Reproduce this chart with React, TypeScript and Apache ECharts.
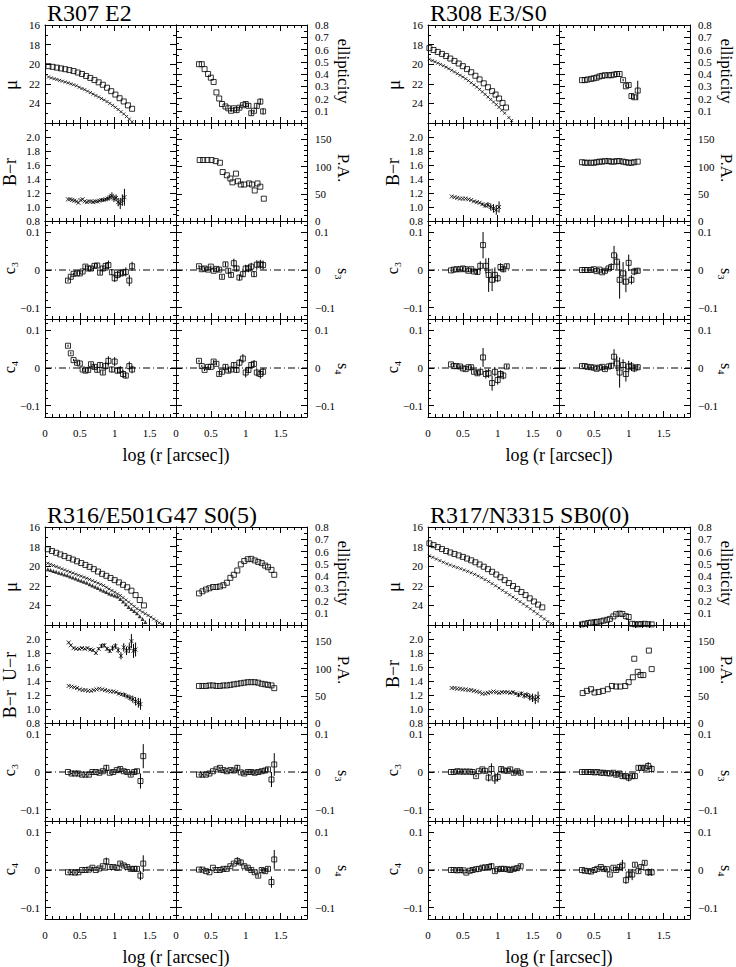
import React, { useEffect, useRef } from "react";
import * as echarts from "echarts";

// ===================== R307 E2 =====================
const p1MuSqX = [0.05,0.11,0.17,0.23,0.29,0.35,0.41,0.47,0.53,0.59,0.65,0.71,0.77,0.83,0.89,0.95,1.01,1.07,1.13,1.19,1.25];
const p1MuSq = [20.2,20.27,20.35,20.43,20.51,20.6,20.7,20.85,21.0,21.2,21.4,21.62,21.85,22.1,22.4,22.75,23.1,23.47,23.8,24.2,24.55];
const p1MuXX = [0.05,0.09,0.13,0.17,0.21,0.25,0.29,0.33,0.37,0.41,0.45,0.49,0.53,0.57,0.61,0.65,0.69,0.73,0.77,0.81,0.85,0.89,0.93,0.97,1.01,1.05,1.09,1.13,1.17,1.21,1.25];
const p1MuX = [21.3,21.4,21.48,21.56,21.65,21.73,21.82,21.9,22.0,22.1,22.2,22.35,22.48,22.6,22.75,22.9,23.05,23.2,23.35,23.5,23.65,23.82,24.0,24.2,24.4,24.62,24.85,25.08,25.33,25.6,25.88];
const p1R = [0.33,0.37,0.41,0.46,0.5,0.54,0.58,0.62,0.66,0.71,0.75,0.79,0.83,0.87,0.91,0.96,1.0,1.04,1.08,1.12,1.16,1.21,1.25];
const p1Eps = [0.48,0.48,0.44,0.40,0.37,0.335,0.25,0.20,0.155,0.135,0.12,0.10,0.12,0.105,0.125,0.145,0.155,0.14,0.08,0.10,0.14,0.175,0.095];
const p1EpsE = [0,0,0,0,0,0,0,0,0,0,0,0.01,0.01,0.02,0.015,0.01,0.02,0.015,0.02,0.01,0.02,0.025,0.025];
const p1PAX = [0.34,0.39,0.45,0.51,0.57,0.63,0.67,0.73,0.78,0.81,0.86,0.89,0.93,0.98,1.05,1.09,1.13,1.17,1.21,1.26];
const p1PA = [112,112,112,112,110,107,90,84,78,71,87,73,67,67,69,67,56,69,63,41];
const p1BrX = [0.33,0.36,0.39,0.42,0.45,0.48,0.51,0.54,0.57,0.6,0.63,0.66,0.69,0.72,0.75,0.78,0.81,0.84,0.87,0.9,0.93,0.96,0.99,1.02,1.05,1.08,1.11,1.14];
const p1Br = [1.11,1.11,1.10,1.09,1.08,1.06,1.10,1.11,1.08,1.07,1.08,1.08,1.07,1.08,1.08,1.09,1.10,1.10,1.11,1.12,1.14,1.16,1.12,1.13,1.07,1.05,1.10,1.14];
const p1BrE = [0,0,0,0,0,0,0,0,0,0,0,0,0.01,0.01,0.01,0.01,0.02,0.02,0.02,0.03,0.04,0.05,0.05,0.05,0.06,0.08,0.08,0.12];
const p1C3 = [-0.028,-0.018,-0.01,-0.009,-0.009,-0.004,0.009,0.004,0.004,0.011,0.012,-0.007,0.004,0.011,0.013,-0.006,-0.022,-0.013,-0.009,-0.007,-0.005,-0.028,0.01];
const p1C3E = [0.003,0.003,0.003,0.003,0.003,0.004,0.005,0.005,0.005,0.006,0.006,0.006,0.007,0.008,0.012,0.008,0.01,0.01,0.01,0.01,0.012,0.015,0.012];
const p1S3 = [0.01,0.002,0.004,0.001,0.009,-0.002,0.003,0.001,-0.018,0.015,-0.002,-0.013,0.018,0.004,-0.02,-0.011,0.004,0.004,0.009,-0.011,0.014,0.015,0.013];
const p1S3E = [0.003,0.003,0.003,0.003,0.003,0.004,0.004,0.005,0.005,0.006,0.006,0.006,0.012,0.008,0.008,0.008,0.01,0.01,0.01,0.008,0.012,0.012,0.012];
const p1C4 = [0.059,0.039,0.021,0.014,0.012,-0.004,-0.007,-0.005,0.01,0.003,-0.005,0.008,-0.012,0.005,0.019,-0.004,0.017,-0.007,-0.005,-0.016,-0.02,0.005,-0.004];
const p1C4E = [0.003,0.003,0.003,0.003,0.003,0.004,0.004,0.005,0.005,0.006,0.006,0.006,0.006,0.01,0.012,0.008,0.012,0.008,0.01,0.01,0.008,0.012,0.01];
const p1S4 = [0.019,0.005,-0.005,0.003,0.003,0.017,0.011,-0.016,-0.01,0.003,-0.007,-0.004,0.008,-0.005,0.014,0.025,-0.012,-0.005,0.008,0.011,-0.012,-0.016,-0.01];
const p1S4E = [0.003,0.003,0.003,0.003,0.003,0.004,0.004,0.005,0.005,0.006,0.006,0.006,0.006,0.008,0.01,0.012,0.013,0.008,0.008,0.01,0.01,0.012,0.01];

// ===================== R308 E3/S0 =====================
const p2MuSqX = [0.02,0.08,0.14,0.2,0.26,0.32,0.38,0.44,0.5,0.56,0.62,0.68,0.74,0.8,0.86,0.92,0.97,1.02,1.07,1.12];
const p2MuSq = [18.36,18.55,18.75,18.95,19.17,19.42,19.67,19.93,20.2,20.5,20.82,21.18,21.55,21.95,22.35,22.75,23.1,23.5,23.95,24.42];
const p2MuXX = [0.02,0.06,0.1,0.14,0.18,0.22,0.26,0.3,0.34,0.38,0.42,0.46,0.5,0.54,0.58,0.62,0.66,0.7,0.74,0.78,0.82,0.86,0.9,0.94,0.98,1.02,1.06,1.1,1.16,1.2];
const p2MuX = [19.5,19.63,19.75,19.89,20.02,20.16,20.3,20.46,20.62,20.79,20.96,21.13,21.3,21.48,21.68,21.89,22.11,22.33,22.57,22.82,23.08,23.34,23.6,23.86,24.12,24.4,24.7,25.0,25.45,25.75];
const p2R = [0.33,0.37,0.41,0.46,0.5,0.54,0.58,0.62,0.66,0.71,0.75,0.79,0.83,0.87,0.92,0.96,1.0,1.04,1.08,1.13];
const p2Eps = [0.35,0.35,0.355,0.36,0.365,0.37,0.38,0.385,0.39,0.39,0.39,0.395,0.40,0.40,0.35,0.30,0.31,0.22,0.21,0.265];
const p2EpsE = [0,0,0,0,0,0,0,0,0,0,0,0.005,0.005,0.01,0.01,0.01,0.015,0.02,0.02,0.08];
const p2PA = [108,107,107,107,107,108,109,109,110,110,109,109,110,110,109,108,107,107,108,109];
const p2BrX = [0.34,0.38,0.42,0.46,0.5,0.54,0.58,0.62,0.66,0.7,0.74,0.78,0.82,0.86,0.9,0.94,0.98,1.02];
const p2Br = [1.15,1.14,1.13,1.12,1.12,1.12,1.11,1.10,1.08,1.07,1.06,1.04,1.02,1.03,1.0,0.98,0.96,1.0];
const p2BrE = [0,0,0,0,0,0,0,0,0.01,0.01,0.01,0.02,0.03,0.04,0.05,0.06,0.07,0.08];
const p2C3 = [-0.001,0.001,0.002,0.002,0.004,0.002,-0.002,0.002,-0.004,-0.005,0.011,0.066,0.011,-0.013,-0.026,-0.013,-0.022,0.008,0.002,0.01];
const p2C3E = [0.002,0.002,0.002,0.002,0.002,0.003,0.003,0.004,0.005,0.008,0.012,0.035,0.02,0.045,0.03,0.02,0.01,0.01,0.008,0.006];
const p2S3 = [0,0,0,0,0.002,-0.003,0.001,-0.006,-0.002,0.004,0.008,0.039,0.022,-0.026,-0.009,-0.031,0.019,-0.026,-0.004,-0.002];
const p2S3E = [0.002,0.002,0.002,0.002,0.002,0.003,0.003,0.004,0.005,0.006,0.01,0.025,0.02,0.05,0.03,0.028,0.022,0.012,0.01,0.008];
const p2C4 = [0.0096,0.005,0.005,0.004,-0.001,-0.003,0.002,0.002,-0.01,-0.014,-0.01,0.028,-0.016,-0.014,-0.04,-0.01,-0.032,-0.016,-0.02,0.004];
const p2C4E = [0.002,0.002,0.002,0.002,0.002,0.003,0.003,0.004,0.005,0.006,0.008,0.025,0.012,0.012,0.02,0.012,0.012,0.01,0.01,0.006];
const p2S4 = [0.005,0.005,0.003,0.002,0.001,-0.002,0.001,0.003,-0.003,0.004,0.006,0.03,0.012,-0.012,0.008,-0.016,0.004,0.004,-0.001,0.002];
const p2S4E = [0.002,0.002,0.002,0.002,0.002,0.002,0.003,0.004,0.004,0.005,0.008,0.02,0.02,0.04,0.015,0.02,0.015,0.012,0.01,0.008];

// ===================== R316/E501G47 S0(5) =====================
const p3MuSqX = [0.04,0.1,0.16,0.22,0.28,0.34,0.4,0.46,0.52,0.58,0.64,0.7,0.76,0.82,0.88,0.94,1.0,1.06,1.12,1.18,1.24,1.3,1.36,1.42];
const p3MuSq = [18.27,18.45,18.63,18.8,18.97,19.15,19.32,19.5,19.68,19.87,20.07,20.3,20.55,20.78,20.98,21.2,21.42,21.65,21.9,22.15,22.5,22.95,23.45,24.0];
const p3MuAX = [0.04,0.08,0.12,0.16,0.2,0.24,0.28,0.32,0.36,0.4,0.44,0.48,0.52,0.56,0.6,0.64,0.68,0.72,0.76,0.8,0.84,0.88,0.92,0.96,1.0,1.04,1.08,1.12,1.16,1.2,1.24,1.28,1.32,1.36,1.4,1.44,1.48,1.52,1.56,1.6,1.64,1.68];
const p3MuA = [19.7,19.81,19.93,20.04,20.15,20.27,20.38,20.49,20.6,20.7,20.81,20.92,21.02,21.13,21.23,21.35,21.48,21.6,21.73,21.85,21.98,22.15,22.32,22.48,22.65,22.82,22.99,23.21,23.44,23.66,23.88,24.1,24.33,24.5,24.68,24.85,25.02,25.2,25.39,25.58,25.77,25.95];
const p3MuBX = [0.04,0.08,0.12,0.16,0.2,0.24,0.28,0.32,0.36,0.4,0.44,0.48,0.52,0.56,0.6,0.64,0.68,0.72,0.76,0.8,0.84,0.88,0.92,0.96,1.0,1.04,1.08,1.12,1.16,1.2,1.24,1.28,1.32,1.36,1.4,1.44];
const p3MuB = [20.3,20.39,20.48,20.57,20.66,20.75,20.84,20.93,21.04,21.15,21.26,21.37,21.48,21.59,21.7,21.83,21.97,22.1,22.23,22.37,22.5,22.64,22.78,22.9,23.0,23.1,23.35,23.6,23.88,24.16,24.37,24.58,24.8,25.1,25.4,25.7];
const p3R = [0.33,0.38,0.43,0.48,0.53,0.58,0.63,0.68,0.73,0.78,0.83,0.88,0.93,0.98,1.03,1.08,1.13,1.18,1.23,1.28,1.32,1.37,1.41];
const p3Eps = [0.258,0.275,0.29,0.3,0.31,0.31,0.315,0.325,0.345,0.385,0.41,0.445,0.495,0.522,0.537,0.54,0.527,0.515,0.505,0.485,0.472,0.45,0.41];
const p3PA = [68,68,68,69,69,68,68,69,69,70,71,72,73,74,75,75,75,74,72,71,70,69,64];
const p3BrX = [0.34,0.38,0.42,0.46,0.5,0.54,0.58,0.62,0.66,0.7,0.74,0.78,0.82,0.86,0.9,0.94,0.98,1.02,1.06,1.1,1.14,1.18,1.22,1.26,1.3,1.34,1.37];
const p3Br = [1.33,1.32,1.31,1.30,1.28,1.27,1.27,1.26,1.26,1.27,1.28,1.29,1.28,1.27,1.26,1.25,1.25,1.24,1.22,1.21,1.2,1.18,1.16,1.14,1.11,1.09,1.07];
const p3BrE = [0,0,0,0,0,0,0,0,0,0,0,0,0,0,0,0.01,0.01,0.01,0.02,0.02,0.03,0.03,0.04,0.05,0.06,0.07,0.08];
const p3UrX = [0.34,0.37,0.41,0.45,0.49,0.53,0.57,0.61,0.65,0.69,0.73,0.77,0.81,0.85,0.89,0.93,0.97,1.01,1.05,1.09,1.13,1.17,1.21,1.24,1.27,1.3];
const p3Ur = [1.95,1.91,1.87,1.86,1.86,1.87,1.86,1.87,1.85,1.84,1.80,1.86,1.90,1.91,1.86,1.83,1.87,1.90,1.84,1.76,1.88,1.83,1.87,1.97,1.83,1.85];
const p3UrE = [0.01,0.01,0.01,0.01,0.01,0.01,0.01,0.01,0.02,0.02,0.02,0.02,0.03,0.03,0.03,0.03,0.04,0.04,0.04,0.05,0.06,0.06,0.07,0.1,0.1,0.1];
const p3C3 = [0,-0.004,-0.004,-0.004,-0.007,-0.007,-0.007,0,0,-0.002,0.002,0.011,-0.002,0,0.005,0.008,0.002,0,-0.007,0,0.002,-0.024,0.042];
const p3C3E = [0.002,0.002,0.002,0.002,0.002,0.002,0.002,0.003,0.003,0.003,0.004,0.008,0.004,0.004,0.004,0.005,0.005,0.005,0.005,0.006,0.006,0.02,0.032];
const p3S3 = [-0.007,-0.007,-0.007,-0.004,0.002,0.007,0.011,0.005,0.002,0.005,0.004,0.011,-0.001,-0.004,0,0,-0.002,0,0.002,0.004,0.007,-0.02,0.02];
const p3S3E = [0.002,0.002,0.002,0.002,0.002,0.002,0.003,0.003,0.003,0.003,0.004,0.008,0.004,0.004,0.004,0.005,0.005,0.005,0.005,0.006,0.006,0.02,0.03];
const p3C4 = [-0.006,-0.006,-0.007,-0.006,0,0,0.001,0.006,0,0.004,0.01,0.023,0.008,0.008,0.006,0.017,0.012,0.008,0.003,0.003,0.003,-0.015,0.017];
const p3C4E = [0.002,0.002,0.002,0.002,0.002,0.002,0.002,0.003,0.003,0.003,0.004,0.01,0.004,0.004,0.004,0.005,0.005,0.005,0.005,0.006,0.006,0.012,0.022];
const p3S4 = [0.001,0.001,-0.003,-0.006,0.006,0,0,0.003,0.003,0.01,0.017,0.024,0.02,0.01,0.006,0,-0.006,-0.015,0,-0.003,0.003,-0.032,0.028];
const p3S4E = [0.002,0.002,0.002,0.002,0.002,0.002,0.002,0.003,0.003,0.003,0.004,0.01,0.008,0.004,0.004,0.005,0.005,0.005,0.005,0.006,0.006,0.015,0.025];

// ===================== R317/N3315 SB0(0) =====================
const p4MuSqX = [0.02,0.08,0.14,0.2,0.26,0.32,0.38,0.44,0.5,0.56,0.62,0.68,0.74,0.8,0.86,0.92,0.98,1.04,1.1,1.16,1.22,1.28,1.34,1.4,1.46,1.52,1.58,1.64];
const p4MuSq = [17.67,17.85,18.05,18.25,18.45,18.6,18.75,18.9,19.05,19.22,19.4,19.6,19.82,20.05,20.3,20.57,20.85,21.13,21.42,21.72,22.02,22.32,22.63,22.95,23.28,23.6,23.92,24.2];
const p4MuXX = [0.02,0.07,0.12,0.17,0.22,0.27,0.32,0.37,0.42,0.47,0.52,0.57,0.62,0.67,0.72,0.77,0.82,0.87,0.92,0.97,1.02,1.07,1.12,1.17,1.22,1.27,1.32,1.37,1.42,1.47,1.52,1.57,1.62,1.67,1.72,1.77];
const p4MuX = [18.95,19.1,19.27,19.43,19.6,19.75,19.88,20.01,20.14,20.26,20.39,20.53,20.67,20.83,21.0,21.18,21.37,21.57,21.78,22.0,22.23,22.46,22.69,22.92,23.15,23.38,23.62,23.86,24.1,24.35,24.6,24.86,25.12,25.38,25.65,25.85];
const p4R = [0.33,0.37,0.42,0.46,0.51,0.55,0.6,0.64,0.69,0.73,0.78,0.82,0.87,0.91,0.96,1.0,1.05,1.09,1.14,1.18,1.23,1.28,1.33];
const p4Eps = [0.005,0.01,0.016,0.02,0.022,0.026,0.03,0.036,0.042,0.05,0.07,0.088,0.093,0.09,0.072,0.065,0.01,0.006,0.005,0.008,0.01,0.006,0.005];
const p4PAX = [0.34,0.4,0.46,0.51,0.57,0.63,0.7,0.76,0.82,0.88,0.95,1.0,1.06,1.08,1.13,1.17,1.21,1.29,1.33];
const p4PA = [55,59,62,56,57,59,62,68,67,67,68,75,84,118,94,88,88,133,99];
const p4BrX = [0.34,0.38,0.42,0.46,0.5,0.54,0.58,0.62,0.66,0.7,0.74,0.78,0.82,0.86,0.9,0.94,0.98,1.02,1.06,1.1,1.14,1.18,1.22,1.26,1.3,1.34,1.38,1.42,1.46,1.5,1.54,1.58];
const p4Br = [1.30,1.30,1.29,1.29,1.28,1.28,1.27,1.27,1.26,1.25,1.24,1.22,1.22,1.23,1.24,1.25,1.24,1.23,1.24,1.24,1.24,1.23,1.24,1.22,1.20,1.22,1.19,1.20,1.17,1.16,1.14,1.17];
const p4BrE = [0,0,0,0,0,0,0,0,0,0,0,0,0,0,0,0,0,0,0.01,0.01,0.01,0.015,0.02,0.02,0.03,0.03,0.04,0.04,0.05,0.06,0.07,0.08];
const p4C3 = [0,0,0.002,0.001,0.001,0.001,0.001,0,-0.011,0.002,0.007,0.003,-0.015,0.008,-0.017,-0.013,0.008,0.004,0.003,0.007,-0.002,0.002,-0.002];
const p4C3E = [0.002,0.002,0.002,0.002,0.002,0.002,0.002,0.003,0.003,0.003,0.004,0.004,0.01,0.015,0.015,0.012,0.005,0.005,0.005,0.005,0.005,0.006,0.006];
const p4S3 = [0,0,0,0,-0.001,0,-0.002,-0.002,-0.003,-0.004,-0.002,-0.007,-0.004,-0.011,-0.011,-0.015,-0.011,-0.011,0.011,0.011,0.011,0.016,0.008];
const p4S3E = [0.002,0.002,0.002,0.002,0.002,0.002,0.002,0.003,0.003,0.003,0.004,0.008,0.004,0.006,0.008,0.01,0.005,0.005,0.005,0.005,0.006,0.01,0.01];
const p4C4 = [0,0,-0.001,0,-0.001,-0.007,-0.002,0,0.002,0.003,0.006,0.007,0.008,0.01,-0.003,0.002,0.003,0.003,0.002,0,0.003,0.005,0.01];
const p4C4E = [0.002,0.002,0.002,0.002,0.002,0.002,0.002,0.003,0.003,0.003,0.004,0.004,0.004,0.008,0.005,0.005,0.005,0.005,0.005,0.005,0.005,0.005,0.006];
const p4S4 = [0,-0.002,-0.003,-0.004,0,0.003,0.008,0.003,0.002,-0.012,0.006,0,0.008,0.012,-0.027,-0.012,-0.012,0.014,-0.003,0.008,0.019,-0.006,-0.006];
const p4S4E = [0.002,0.002,0.002,0.002,0.002,0.002,0.003,0.003,0.003,0.003,0.004,0.004,0.006,0.015,0.01,0.015,0.015,0.006,0.005,0.005,0.005,0.01,0.01];

// ===================== layout / styling =====================
const FONT = '"Liberation Serif", "DejaVu Serif", serif';
const COL_W = 131;
const ROW_H = 98;
const X_MAX = 1.88;
const C_LIM = 0.13;
const xTickLabels = ["0", "0.5", "1", "1.5"];

type XY = { x: number[]; y: number[]; e?: number[] };
type Mark = { d: XY; sym: "sq" | "x" | "xs" | "tri" };
interface Panel {
  title: string;
  left: number;
  top: number;
  colorLabel: string;
  colorLabelDy: number;
  mu: Mark[];
  color: Mark[];
  eps: XY;
  pa: XY;
  c3: XY;
  s3: XY;
  c4: XY;
  s4: XY;
}

const PANELS: Panel[] = [
  {
    title: "R307 E2", left: 45, top: 25, colorLabel: "B\u2212r", colorLabelDy: 147,
    mu: [{ d: { x: p1MuSqX, y: p1MuSq }, sym: "sq" }, { d: { x: p1MuXX, y: p1MuX }, sym: "xs" }],
    color: [{ d: { x: p1BrX, y: p1Br, e: p1BrE }, sym: "x" }],
    eps: { x: p1R, y: p1Eps, e: p1EpsE }, pa: { x: p1PAX, y: p1PA },
    c3: { x: p1R, y: p1C3, e: p1C3E }, s3: { x: p1R, y: p1S3, e: p1S3E },
    c4: { x: p1R, y: p1C4, e: p1C4E }, s4: { x: p1R, y: p1S4, e: p1S4E },
  },
  {
    title: "R308 E3/S0", left: 428, top: 25, colorLabel: "B\u2212r", colorLabelDy: 147,
    mu: [{ d: { x: p2MuSqX, y: p2MuSq }, sym: "sq" }, { d: { x: p2MuXX, y: p2MuX }, sym: "xs" }],
    color: [{ d: { x: p2BrX, y: p2Br, e: p2BrE }, sym: "x" }],
    eps: { x: p2R, y: p2Eps, e: p2EpsE }, pa: { x: p2R, y: p2PA },
    c3: { x: p2R, y: p2C3, e: p2C3E }, s3: { x: p2R, y: p2S3, e: p2S3E },
    c4: { x: p2R, y: p2C4, e: p2C4E }, s4: { x: p2R, y: p2S4, e: p2S4E },
  },
  {
    title: "R316/E501G47 S0(5)", left: 45, top: 527, colorLabel: "B\u2212r  U\u2212r", colorLabelDy: 158,
    mu: [
      { d: { x: p3MuSqX, y: p3MuSq }, sym: "sq" },
      { d: { x: p3MuAX, y: p3MuA }, sym: "xs" },
      { d: { x: p3MuBX, y: p3MuB }, sym: "tri" },
    ],
    color: [
      { d: { x: p3UrX, y: p3Ur, e: p3UrE }, sym: "x" },
      { d: { x: p3BrX, y: p3Br, e: p3BrE }, sym: "x" },
    ],
    eps: { x: p3R, y: p3Eps }, pa: { x: p3R, y: p3PA },
    c3: { x: p3R, y: p3C3, e: p3C3E }, s3: { x: p3R, y: p3S3, e: p3S3E },
    c4: { x: p3R, y: p3C4, e: p3C4E }, s4: { x: p3R, y: p3S4, e: p3S4E },
  },
  {
    title: "R317/N3315 SB0(0)", left: 428, top: 527, colorLabel: "B\u2212r", colorLabelDy: 147,
    mu: [{ d: { x: p4MuSqX, y: p4MuSq }, sym: "sq" }, { d: { x: p4MuXX, y: p4MuX }, sym: "xs" }],
    color: [{ d: { x: p4BrX, y: p4Br, e: p4BrE }, sym: "x" }],
    eps: { x: p4R, y: p4Eps }, pa: { x: p4PAX, y: p4PA },
    c3: { x: p4R, y: p4C3, e: p4C3E }, s3: { x: p4R, y: p4S3, e: p4S3E },
    c4: { x: p4R, y: p4C4, e: p4C4E }, s4: { x: p4R, y: p4S4, e: p4S4E },
  },
];

const CROSS = "path://M0,0L10,10M10,0L0,10";
const SYMS: Record<string, any> = {
  sq: { symbol: "rect", size: 5, style: { color: "rgba(0,0,0,0)", borderColor: "#000", borderWidth: 1 } },
  x: { symbol: CROSS, size: 4, style: { color: "rgba(0,0,0,0)", borderColor: "#000", borderWidth: 1 } },
  xs: { symbol: CROSS, size: 3, style: { color: "rgba(0,0,0,0)", borderColor: "#000", borderWidth: 1 } },
  tri: { symbol: "triangle", size: 4, style: { color: "#000" } },
};

function fmtC(v: number) {
  const r = Math.round(v * 10);
  if (Math.abs(v * 10 - r) > 1e-6) return "";
  if (r === 0) return "0";
  return (r < 0 ? "\u2212" : "") + (Math.abs(r) / 10).toString();
}
function fmtX(v: number) {
  const i = Math.round(v * 2);
  if (Math.abs(v * 2 - i) > 1e-6 || i > 3) return "";
  return xTickLabels[i];
}

type YDef = { min: number; max: number; interval?: number; splitNumber?: number; minor: number; inverse?: boolean; fmt: (v: number) => string };
const cDef: YDef = { min: -C_LIM, max: C_LIM, splitNumber: 3, minor: 5, fmt: fmtC };
const Y_DEFS: YDef[][] = [
  [
    { min: 16, max: 26, interval: 2, minor: 2, inverse: true, fmt: (v) => (v > 25.5 ? "" : String(Math.round(v))) },
    { min: 0, max: 0.8, interval: 0.1, minor: 2, fmt: (v) => (v < 0.05 ? "" : v.toFixed(1)) },
  ],
  [
    { min: 0.8, max: 2.2, interval: 0.2, minor: 2, fmt: (v) => (v > 2.1 ? "" : v.toFixed(1)) },
    { min: 0, max: 180, interval: 50, minor: 5, fmt: (v) => (Math.round(v) % 50 === 0 ? String(Math.round(v)) : "") },
  ],
  [cDef, cDef],
  [cDef, cDef],
];

function renderErr(_params: any, api: any) {
  const x = api.value(0);
  const y = api.value(1);
  const e = api.value(2);
  const a = api.coord([x, y - e]);
  const b = api.coord([x, y + e]);
  return {
    type: "line",
    shape: { x1: a[0], y1: a[1], x2: b[0], y2: b[1] },
    style: { stroke: "#000", lineWidth: 1 },
  };
}

function buildOption() {
  const grid: any[] = [];
  const xAxis: any[] = [];
  const yAxis: any[] = [];
  const series: any[] = [];
  const graphic: any[] = [];
  const lineStyle = { color: "#000", width: 1 };
  const labelBase = { fontFamily: FONT, fontSize: 11, color: "#000" };

  PANELS.forEach((P) => {
    for (let r = 0; r < 4; r++) {
      for (let c = 0; c < 2; c++) {
        const g = grid.length;
        grid.push({
          left: P.left + c * COL_W,
          top: P.top + r * ROW_H,
          width: COL_W,
          height: ROW_H,
          containLabel: false,
          outerBoundsMode: "none",
        });
        ["bottom", "top"].forEach((pos) => {
          xAxis.push({
            type: "value",
            gridIndex: g,
            position: pos,
            min: 0,
            max: X_MAX,
            interval: 0.5,
            axisLine: { show: true, onZero: false, lineStyle },
            axisTick: { show: true, inside: true, length: 6, lineStyle },
            minorTick: { show: true, splitNumber: 5, length: 3, lineStyle },
            splitLine: { show: false },
            minorSplitLine: { show: false },
            axisLabel: { ...labelBase, show: pos === "bottom" && r === 3, margin: 10, formatter: fmtX },
          });
        });
        const yd = Y_DEFS[r][c];
        ["left", "right"].forEach((pos) => {
          const ax: any = {
            type: "value",
            gridIndex: g,
            position: pos,
            min: yd.min,
            max: yd.max,
            inverse: !!yd.inverse,
            axisLine: { show: true, onZero: false, lineStyle },
            axisTick: { show: true, inside: true, length: 6, lineStyle },
            minorTick: { show: true, splitNumber: yd.minor, length: 3, lineStyle },
            splitLine: { show: false },
            minorSplitLine: { show: false },
            axisLabel: {
              ...labelBase,
              show: (pos === "left" && c === 0) || (pos === "right" && c === 1),
              margin: pos === "left" ? 5 : 8,
              formatter: yd.fmt,
            },
          };
          if (yd.interval !== undefined) ax.interval = yd.interval;
          if (yd.splitNumber !== undefined) ax.splitNumber = yd.splitNumber;
          yAxis.push(ax);
        });

        const xi = 2 * g;
        const yi = 2 * g;
        const addScatter = (d: XY, sym: string) => {
          const s = SYMS[sym];
          series.push({
            type: "scatter",
            xAxisIndex: xi,
            yAxisIndex: yi,
            data: d.x.map((x, i) => [x, d.y[i]]),
            symbol: s.symbol,
            symbolSize: s.size,
            itemStyle: s.style,
            silent: true,
            z: 3,
          });
        };
        const addErr = (d: XY) => {
          if (!d.e) return;
          const data = d.x.map((x, i) => [x, d.y[i], d.e![i]]).filter((a) => a[2] > 0);
          if (!data.length) return;
          series.push({
            type: "custom",
            xAxisIndex: xi,
            yAxisIndex: yi,
            data,
            encode: { x: 0, y: 1 },
            renderItem: renderErr,
            silent: true,
            z: 2,
          });
        };
        const addZero = () => {
          series.push({
            type: "line",
            xAxisIndex: xi,
            yAxisIndex: yi,
            data: [[0, 0], [X_MAX, 0]],
            symbol: "none",
            lineStyle: { color: "#000", width: 1, type: [7, 3, 1, 3] },
            silent: true,
            z: 1,
          });
        };

        if (r === 0 && c === 0) P.mu.forEach((m) => addScatter(m.d, m.sym));
        if (r === 0 && c === 1) { addErr(P.eps); addScatter(P.eps, "sq"); }
        if (r === 1 && c === 0) P.color.forEach((m) => { addErr(m.d); addScatter(m.d, m.sym); });
        if (r === 1 && c === 1) addScatter(P.pa, "sq");
        if (r >= 2) {
          const d = r === 2 ? (c === 0 ? P.c3 : P.s3) : c === 0 ? P.c4 : P.s4;
          addZero();
          addErr(d);
          addScatter(d, "sq");
        }
      }
    }

    const L = P.left;
    const T = P.top;
    const R = P.left + 2 * COL_W;
    const txt = (text: string, x: number, y: number, size: number, rot: number, align = "center") => {
      graphic.push({
        type: "text",
        x,
        y,
        rotation: rot,
        silent: true,
        z: 10,
        style: {
          text,
          font: `${size}px ${FONT}`,
          fill: "#000",
          textAlign: align,
          align,
          textVerticalAlign: "middle",
          verticalAlign: "middle",
        },
      });
    };
    const up = Math.PI / 2;
    const down = -Math.PI / 2;
    txt(P.title, L + 2, T - 12, 24, 0, "left");
    txt("\u03bc", L - 35, T + 60, 19, up);
    txt(P.colorLabel, L - 35, T + P.colorLabelDy, 18, up);
    txt("c\u2083", L - 36, T + 243, 16, up);
    txt("c\u2084", L - 36, T + 342, 16, up);
    txt("ellipticity", R + 36, T + 46, 17, down);
    txt("P.A.", R + 36, T + 143, 17, down);
    txt("s\u2083", R + 36, T + 249, 16, down);
    txt("s\u2084", R + 36, T + 344, 16, down);
    txt("log (r [arcsec])", L + COL_W, T + 4 * ROW_H + 37.5, 18, 0);
  });

  return {
    animation: false,
    backgroundColor: "#fff",
    grid,
    xAxis,
    yAxis,
    series,
    graphic: { elements: graphic },
  };
}

export default function App() {
  const ref = useRef<HTMLDivElement>(null);
  useEffect(() => {
    if (!ref.current) return;
    const chart = echarts.init(ref.current, undefined, { renderer: "svg" });
    chart.setOption(buildOption() as any);
    return () => chart.dispose();
  }, []);
  return (
    <div
      ref={ref}
      style={{ position: "absolute", left: 0, top: 0, width: 736, height: 967, background: "#fff" }}
    />
  );
}
